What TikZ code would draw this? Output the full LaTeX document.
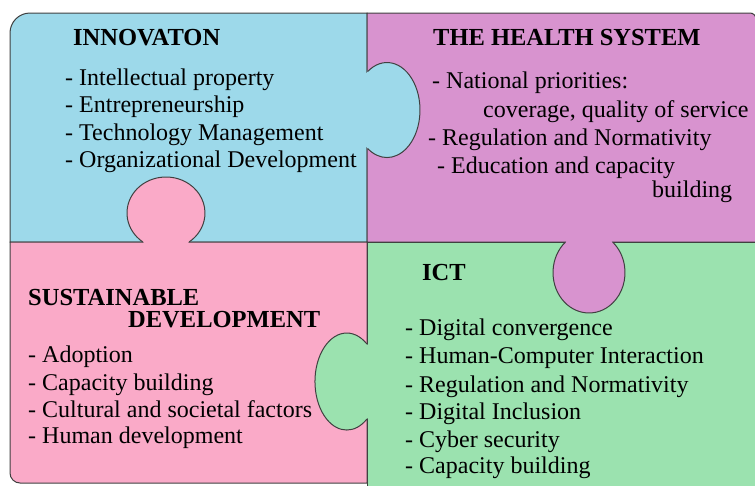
\documentclass[tikz,border=0pt]{standalone}
\usepackage{fontspec}
\setmainfont{Liberation Serif}
\usepackage{tikz}

\definecolor{innblue}{RGB}{157,217,234}
\definecolor{healthpurple}{RGB}{216,147,207}
\definecolor{sustpink}{RGB}{250,170,200}
\definecolor{ictgreen}{RGB}{155,226,175}

\tikzset{
  piece/.style={draw=black!75, line width=1pt},
  item/.style={anchor=base west, inner sep=0pt, font=\fontsize{24}{28}\selectfont},
  head/.style={anchor=base west, inner sep=0pt, font=\bfseries\fontsize{24.5}{28}\selectfont}
}

\begin{document}
\begin{tikzpicture}[x=1pt, y=-1pt]
    \useasboundingbox (0,0) rectangle (755,485);

    % draw the four quadrants
    \filldraw[piece, fill=innblue] (10,242) -- (10,33) arc[start angle=180, end angle=270, radius=20] -- (367,13) -- (367,242) -- cycle;
    \filldraw[piece, fill=healthpurple] (367,13) -- (750,13) arc[start angle=270, end angle=360, radius=6] -- (756,242) -- (367,242) -- cycle;
    \filldraw[piece, fill=sustpink] (367,242) -- (10,242) -- (10,473) arc[start angle=180, end angle=90, radius=10] -- (367,483) -- cycle;
    \filldraw[piece, fill=ictgreen] (367,242) -- (756,242) -- (756,492) -- (367,492) -- cycle;

    % draw knobs (fill first, then outline only outside the neck)
    \fill[innblue] (387,110) ellipse[x radius=33, y radius=47.5];
    \fill[sustpink] (166,213) ellipse[x radius=39, y radius=36];
    \fill[healthpurple] (589,272.6) ellipse[x radius=36, y radius=40.4];
    \fill[ictgreen] (346.8,381.5) ellipse[x radius=31.8, y radius=48.5];

    \draw[piece] (367.6,71.6) arc[start angle=-126, end angle=126, x radius=33, y radius=47.5];
    \draw[piece] (142.9,242) arc[start angle=126.3, end angle=413.7, x radius=39, y radius=36];
    \draw[piece] (565.5,242) arc[start angle=229.2, end angle=-49.2, x radius=36, y radius=40.4];
    \draw[piece] (366.9,344) arc[start angle=-50.7, end angle=-309.3, x radius=31.8, y radius=48.5];

    % innovation
    \node[head] (innovation) at (73,45) {INNOVATON};
    \node[item] (inn1) at (65,85) {- Intellectual property};
    \node[item] (inn2) at (65,112.5) {- Entrepreneurship};
    \node[item] (inn3) at (65,140) {- Technology Management};
    \node[item] (inn4) at (65,167.5) {- Organizational Development};

    % health system
    \node[head] (health) at (433,45) {THE HEALTH SYSTEM};
    \node[item] (hs1) at (432,88) {- National priorities:};
    \node[item] (hs1b) at (483,117) {coverage, quality of service};
    \node[item] (hs2) at (428,145) {- Regulation and Normativity};
    \node[item] (hs3) at (437,173) {- Education and capacity};
    \node[item] (hs3b) at (652,197) {building};

    % sustainable development
    \node[head] (sust) at (28,305) {SUSTAINABLE};
    \node[head] (sustb) at (128,327) {DEVELOPMENT};
    \node[item] (sd1) at (28,362) {- Adoption};
    \node[item] (sd2) at (28,390) {- Capacity building};
    \node[item] (sd3) at (28,417) {- Cultural and societal factors};
    \node[item] (sd4) at (28,443) {- Human development};

    % ict
    \node[head] (ict) at (422,280) {ICT};
    \node[item] (ict1) at (405,335) {- Digital convergence};
    \node[item] (ict2) at (405,363) {- Human-Computer Interaction};
    \node[item] (ict3) at (405,392) {- Regulation and Normativity};
    \node[item] (ict4) at (405,419) {- Digital Inclusion};
    \node[item] (ict5) at (405,447) {- Cyber security};
    \node[item] (ict6) at (405,473) {- Capacity building};
\end{tikzpicture}
\end{document}
